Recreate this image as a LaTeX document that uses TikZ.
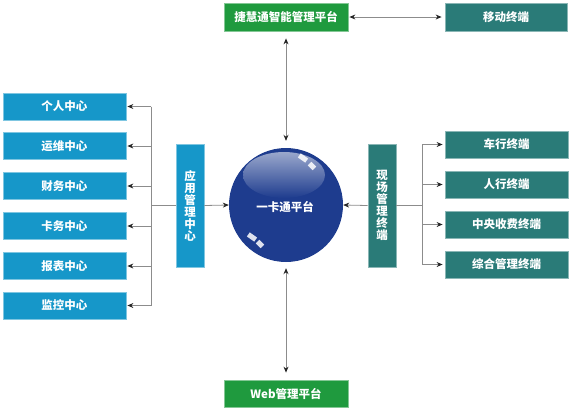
\documentclass[tikz,border=0pt]{standalone}
\usepackage{fontspec}
\setmainfont{Noto Sans CJK SC}
\usetikzlibrary{arrows.meta}
\definecolor{cblue}{HTML}{1697C9}
\definecolor{cteal}{HTML}{2A7B78}
\definecolor{cgreen}{HTML}{1F9A3E}
\definecolor{cnavy}{HTML}{1E3C8E}
\definecolor{cline}{HTML}{8C8C8C}
\begin{document}
\begin{tikzpicture}[x=1pt,y=-1pt,
  lbl/.style={text=white,font=\bfseries\fontsize{11.5}{12}\selectfont,inner sep=0pt},
  hbox/.style={lbl,minimum width=123pt,minimum height=27pt,line width=0.8pt},
  vbox/.style={lbl,minimum width=28pt,minimum height=123pt,align=center,line width=0.8pt},
  bluebox/.style={hbox,fill=cblue,draw=cblue!55!white},
  tealbox/.style={hbox,fill=cteal,draw=cteal!55!white},
  greenbox/.style={hbox,fill=cgreen,draw=cgreen!55!white},
  conn/.style={draw=cline,line width=0.8pt},
  arr/.style={conn,-{Stealth[length=6pt,width=5pt,color=black!85]}},
  darr/.style={conn,{Stealth[length=6pt,width=5pt,color=black!85]}-{Stealth[length=6pt,width=5pt,color=black!85]}},
  glint/.style={fill=white,opacity=0.85,minimum width=9pt,minimum height=5pt,inner sep=0pt}
]
\useasboundingbox (0,0) rectangle (573,413);

% top / bottom / mobile
\node[greenbox,minimum width=124pt,minimum height=28pt] (top) at (286,17) {捷慧通智能管理平台};
\node[tealbox,minimum width=122pt,minimum height=28pt] (mobile) at (506,17) {移动终端};
\node[greenbox,minimum width=124pt] (web) at (286,393.5) {Web管理平台};

% core sphere
\node[circle,fill=cnavy,minimum size=114pt,inner sep=0pt] (core) at (286,205) {};
\shade[top color=cnavy!45!white,bottom color=cnavy] (284,175) ellipse [x radius=41pt,y radius=23pt];
\node[glint,rotate=-35] (g1) at (303,158) {};
\node[glint,rotate=-45,minimum width=7pt] (g2) at (312,166) {};
\node[glint,rotate=-35] (g3) at (252,237) {};
\node[glint,rotate=-45,minimum width=7pt] (g4) at (260,244) {};
\node[lbl] (coret) at (285,207) {一卡通平台};

% left side
\node[vbox,fill=cblue,draw=cblue!55!white] (app) at (190,205.5) {应\\用\\管\\理\\中\\心};
\node[bluebox] (l1) at (64.5,106.5) {个人中心};
\node[bluebox] (l2) at (64.5,146) {运维中心};
\node[bluebox] (l3) at (64.5,186) {财务中心};
\node[bluebox] (l4) at (64.5,226) {卡务中心};
\node[bluebox] (l5) at (64.5,266) {报表中心};
\node[bluebox] (l6) at (64.5,305.5) {监控中心};
\coordinate (busL) at (151,205);

% right side
\node[vbox,fill=cteal,draw=cteal!55!white] (field) at (382,205.5) {现\\场\\管\\理\\终\\端};
\node[tealbox] (r1) at (506.5,144.5) {车行终端};
\node[tealbox] (r2) at (506.5,184.5) {人行终端};
\node[tealbox] (r3) at (506.5,224.5) {中央收费终端};
\node[tealbox] (r4) at (506.5,264.5) {综合管理终端};
\coordinate (busR) at (422,205);

% connectors
\draw[darr,shorten <=7pt,shorten >=7pt] (top.south) -- (core.north);
\draw[darr,shorten <=1pt,shorten >=3pt] (top.east) -- (mobile.west);
\draw[darr,shorten <=6pt,shorten >=7pt] (core.south) -- (web.north);

\draw[arr] (app.east) -- (core.west);
\draw[conn] (app.west) -- (busL |- app.west);
\draw[conn] (busL |- l1.east) -- (busL |- l6.east);
\foreach \b in {l1,l2,l3,l4,l5,l6}
  \draw[arr,shorten >=1pt] (busL |- \b.east) -- (\b.east);

\draw[arr] (field.west) -- (core.east);
\draw[conn] (field.east) -- (busR |- field.east);
\draw[conn] (busR |- r1.west) -- (busR |- r4.west);
\foreach \b in {r1,r2,r3,r4}
  \draw[arr,shorten >=2pt] (busR |- \b.west) -- (\b.west);
\end{tikzpicture}
\end{document}
